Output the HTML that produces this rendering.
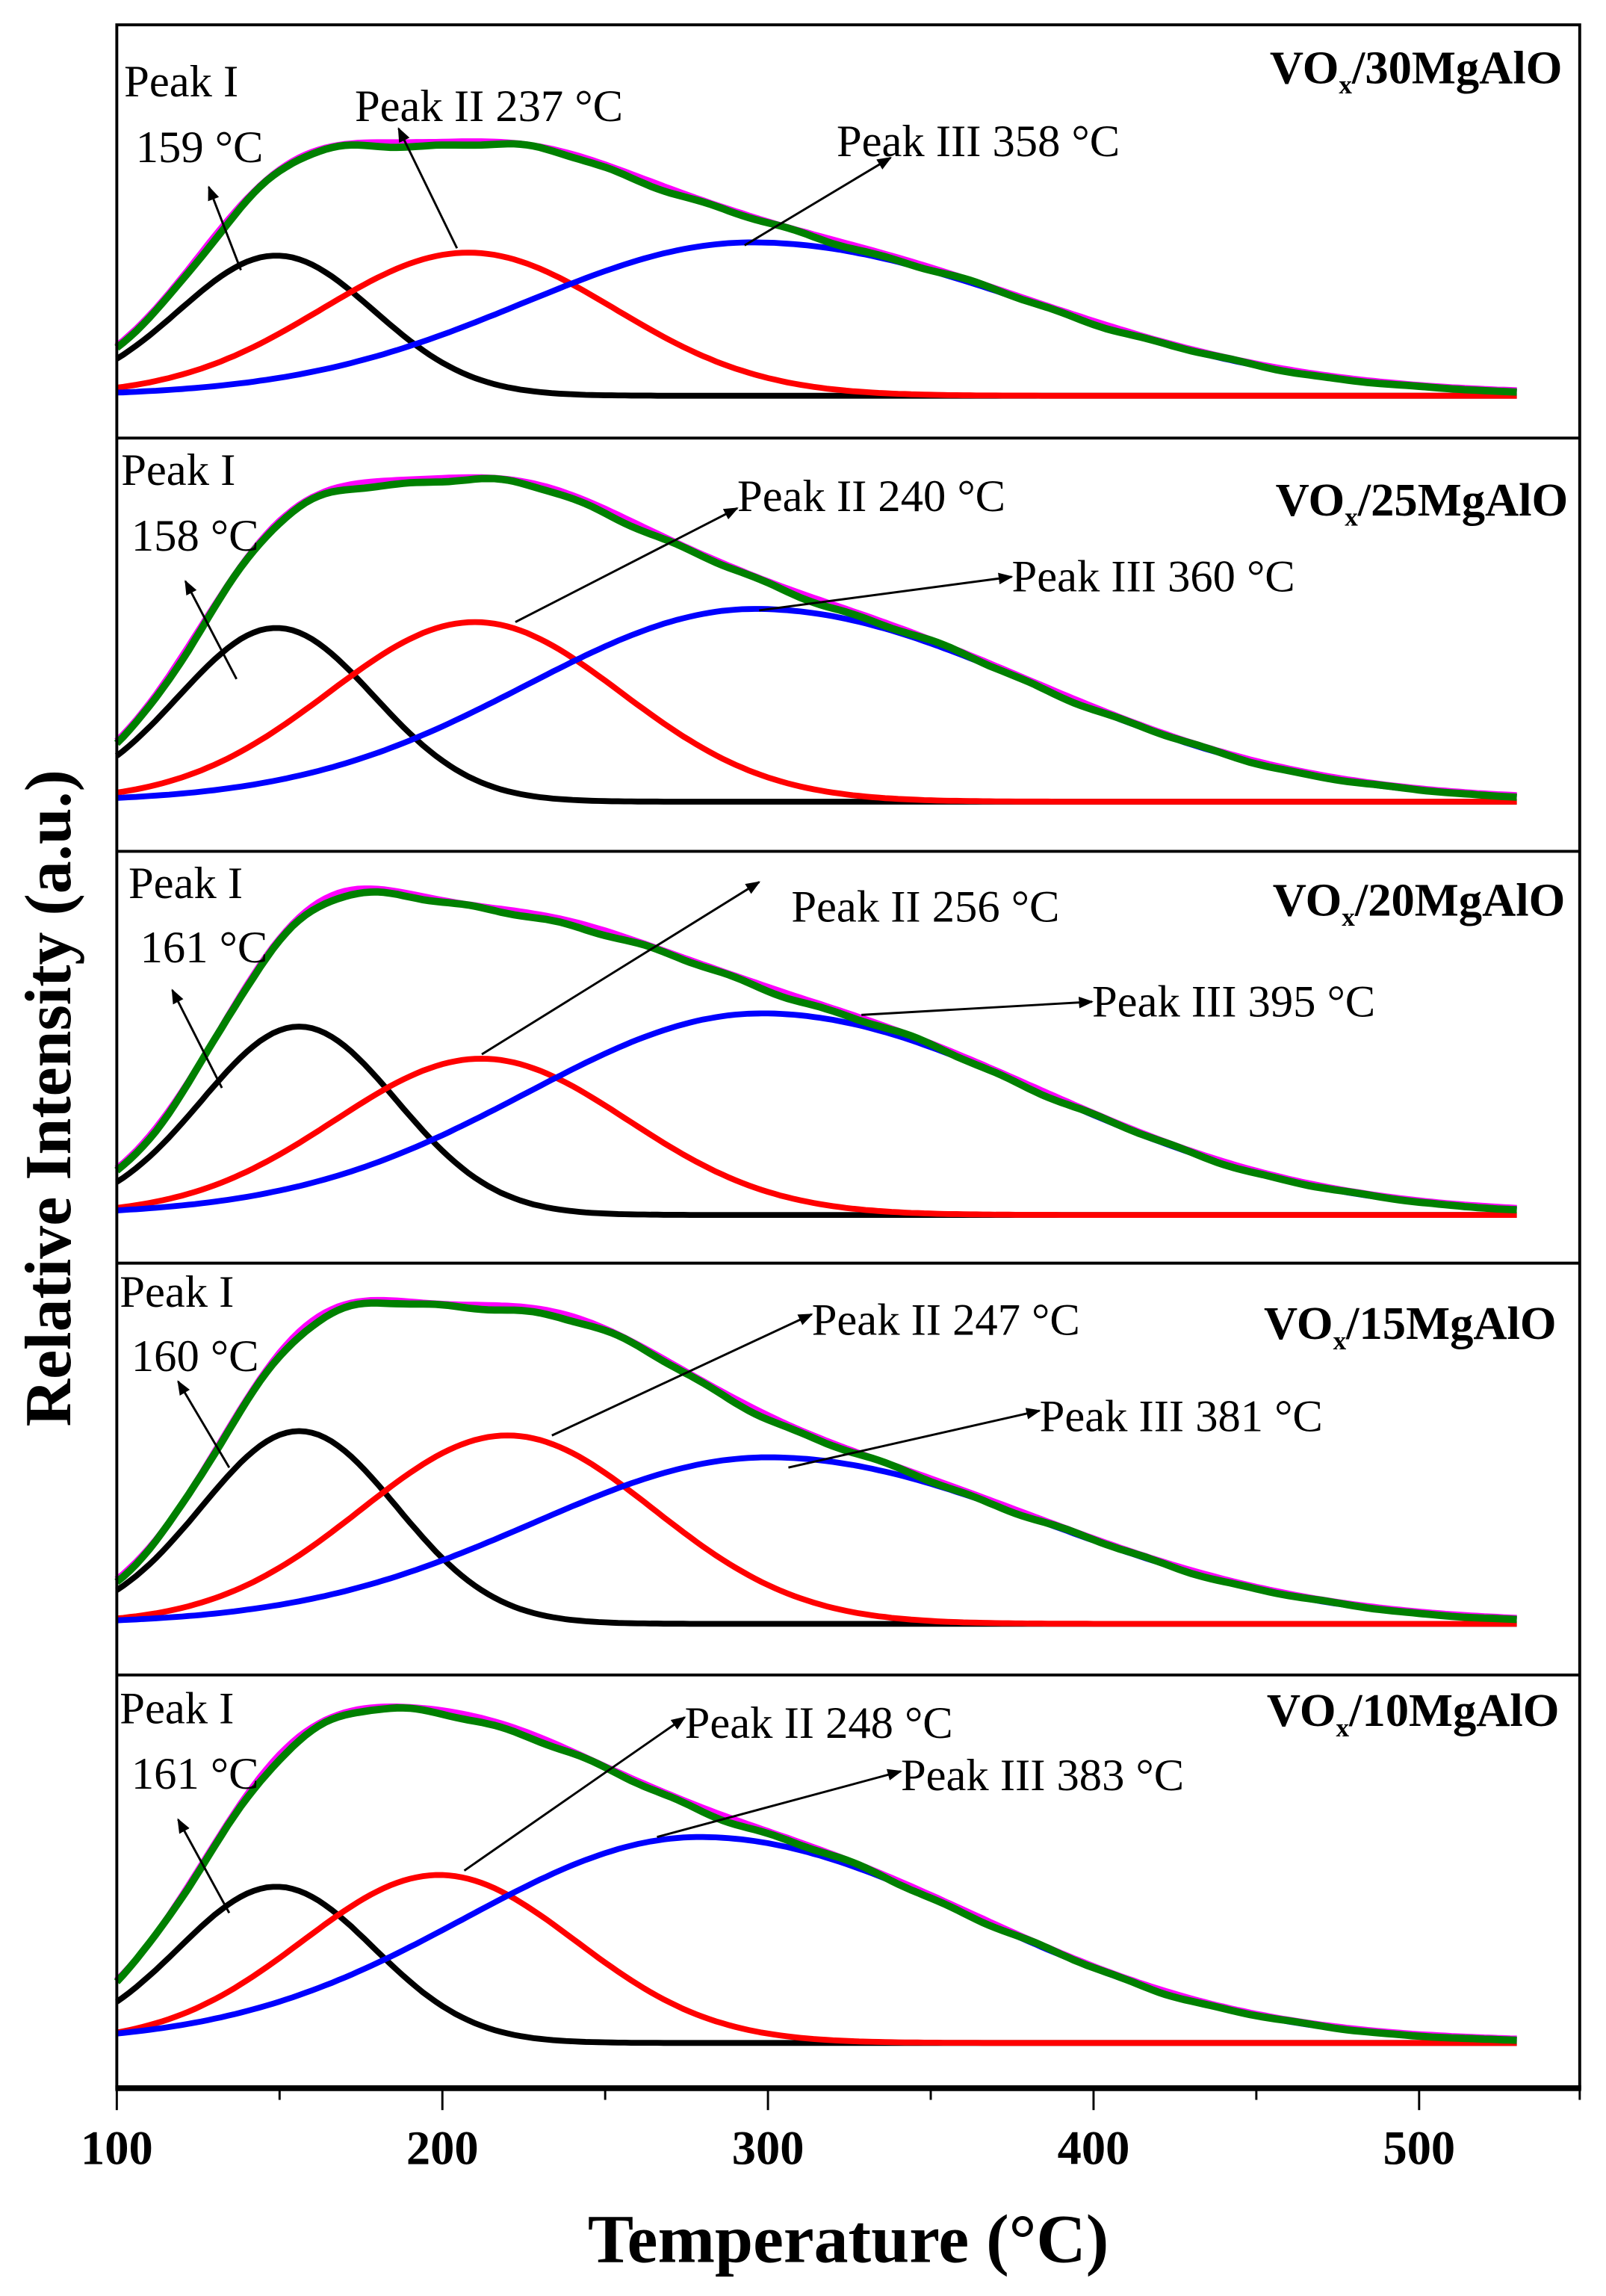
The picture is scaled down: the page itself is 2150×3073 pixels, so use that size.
<!DOCTYPE html>
<html><head><meta charset="utf-8">
<style>
html,body{margin:0;padding:0;background:#fff;}
svg{display:block;}
text{font-family:"Liberation Serif",serif;}
</style></head>
<body>
<svg id="s" width="2150" height="3073" viewBox="0 0 1100 1572.3" preserveAspectRatio="none" xmlns="http://www.w3.org/2000/svg">
<defs>
<marker id="ah" markerWidth="10" markerHeight="8" refX="9" refY="4" orient="auto" markerUnits="userSpaceOnUse">
<path d="M0,0 L10,4 L0,8 Z" fill="#000"/>
</marker>
</defs>
<rect x="0" y="0" width="1100" height="1572.3" fill="#fff"/>
<g id="curves"></g>
<rect x="80" y="17" width="1002" height="1413" fill="none" stroke="#000" stroke-width="2"/>
<line x1="80" y1="300" x2="1082" y2="300" stroke="#000" stroke-width="2"/>
<line x1="80" y1="583" x2="1082" y2="583" stroke="#000" stroke-width="2"/>
<line x1="80" y1="865" x2="1082" y2="865" stroke="#000" stroke-width="2"/>
<line x1="80" y1="1147" x2="1082" y2="1147" stroke="#000" stroke-width="2"/>
<line x1="79" y1="1430" x2="1083" y2="1430" stroke="#000" stroke-width="4"/>
<g stroke="#000" stroke-width="1.5">
<line x1="80" y1="1430" x2="80" y2="1445"/><line x1="191.5" y1="1430" x2="191.5" y2="1438"/>
<line x1="303" y1="1430" x2="303" y2="1445"/><line x1="414.5" y1="1430" x2="414.5" y2="1438"/>
<line x1="526" y1="1430" x2="526" y2="1445"/><line x1="637.5" y1="1430" x2="637.5" y2="1438"/>
<line x1="749" y1="1430" x2="749" y2="1445"/><line x1="860.5" y1="1430" x2="860.5" y2="1438"/>
<line x1="972" y1="1430" x2="972" y2="1445"/><line x1="1082" y1="1430" x2="1082" y2="1438"/>
</g>
<g font-size="33" font-weight="bold" text-anchor="middle">
<text x="80" y="1482">100</text><text x="303" y="1482">200</text><text x="526" y="1482">300</text><text x="749" y="1482">400</text><text x="972" y="1482">500</text>
</g>
<text x="581" y="1549" font-size="47" font-weight="bold" text-anchor="middle">Temperature (°C)</text>
<text transform="translate(48,752) rotate(-90)" font-size="45" font-weight="bold" text-anchor="middle">Relative Intensity (a.u.)</text>

<g font-size="31" fill="#000">
<text x="85" y="66">Peak I</text><text x="93" y="111">159 °C</text>
<text x="243" y="83">Peak II 237 °C</text><text x="573" y="107">Peak III 358 °C</text>
<text x="83" y="332">Peak I</text><text x="90" y="377">158 °C</text>
<text x="505" y="350">Peak II 240 °C</text><text x="693" y="405">Peak III 360 °C</text>
<text x="88" y="615">Peak I</text><text x="96" y="659">161 °C</text>
<text x="542" y="631">Peak II 256 °C</text><text x="748" y="696">Peak III 395 °C</text>
<text x="82" y="895">Peak I</text><text x="90" y="939">160 °C</text>
<text x="556" y="914">Peak II 247 °C</text><text x="712" y="980">Peak III 381 °C</text>
<text x="82" y="1180">Peak I</text><text x="90" y="1225">161 °C</text>
<text x="469" y="1190">Peak II 248 °C</text><text x="617" y="1226">Peak III 383 °C</text>
</g>
<g font-size="32" font-weight="bold" text-anchor="end">
<text x="1070" y="57">VO<tspan font-size="18" dy="7">x</tspan><tspan dy="-7">/30MgAlO</tspan></text>
<text x="1074" y="353">VO<tspan font-size="18" dy="7">x</tspan><tspan dy="-7">/25MgAlO</tspan></text>
<text x="1072" y="627">VO<tspan font-size="18" dy="7">x</tspan><tspan dy="-7">/20MgAlO</tspan></text>
<text x="1066" y="917">VO<tspan font-size="18" dy="7">x</tspan><tspan dy="-7">/15MgAlO</tspan></text>
<text x="1068" y="1182">VO<tspan font-size="18" dy="7">x</tspan><tspan dy="-7">/10MgAlO</tspan></text>
</g>
<g stroke="#000" stroke-width="1.5" marker-end="url(#ah)">
<line x1="165" y1="185" x2="143" y2="128"/>
<line x1="313" y1="170" x2="273" y2="88"/>
<line x1="510" y1="168" x2="610" y2="108"/>
<line x1="162" y1="465" x2="127" y2="398"/>
<line x1="353" y1="426" x2="505" y2="348"/>
<line x1="520" y1="418" x2="693" y2="395"/>
<line x1="152" y1="745" x2="118" y2="678"/>
<line x1="330" y1="722" x2="520" y2="604"/>
<line x1="590" y1="695" x2="748" y2="686"/>
<line x1="157" y1="1005" x2="122" y2="946"/>
<line x1="378" y1="983" x2="556" y2="900"/>
<line x1="540" y1="1005" x2="712" y2="966"/>
<line x1="157" y1="1310" x2="122" y2="1246"/>
<line x1="318" y1="1281" x2="469" y2="1176"/>
<line x1="450" y1="1258" x2="617" y2="1213"/>
</g>
</svg>
<script>
(function(){
var P=[
 {b:271,k:[149,96,30,30],r:[208,98,45,45],u:[295,105,70,86],x:[215,12,35,35]},
 {b:549,k:[149,119,30,30],r:[210,123,45,45],u:[296,132,70,86],x:[205,20,35,35]},
 {b:832,k:[156,129,30,30],r:[212,107,45,45],u:[298,138,72,86],x:[210,12,35,35]},
 {b:1112,k:[156,132,30,30],r:[220,129,45,45],u:[300,114,72,85],x:[210,12,35,35]},
 {b:1399,k:[149,107,30,30],r:[199,115,42,42],u:[279,141,72,85],x:[200,8,30,30]}
];
function g(T,p){var s=T<p[0]?p[2]:p[3];var d=T-p[0];return p[1]*Math.exp(-d*d/(2*s*s));}
function X(T){return 80+2.23*(T-100);}
var out='';
P.forEach(function(p,i){
 var pk='',pr='',pu='',pm='',pg='';
 for(var T=100;T<=530;T+=2){
  var x=X(T).toFixed(1);
  var k=g(T,p.k),r=g(T,p.r),u=g(T,p.u),e=g(T,p.x);
  var s=k+r+u+e;
  var w=1.2*Math.sin(T*0.09+i)+0.8*Math.sin(T*0.23+2*i);
  var c=(T==100?'M':'L');
  pk+=c+x+','+(p.b-k).toFixed(1);
  pr+=c+x+','+(p.b-r).toFixed(1);
  pu+=c+x+','+(p.b-u).toFixed(1);
  pm+=c+x+','+(p.b-s*1.005-1).toFixed(1);
  pg+=c+x+','+(p.b-s-w*(s/(s+30))).toFixed(1);
 }
 out+='<path d="'+pk+'" fill="none" stroke="#000" stroke-width="4"/>';
 out+='<path d="'+pr+'" fill="none" stroke="#f00" stroke-width="4"/>';
 out+='<path d="'+pu+'" fill="none" stroke="#00f" stroke-width="4"/>';
 out+='<path d="'+pm+'" fill="none" stroke="#f0f" stroke-width="4.5"/>';
 out+='<path d="'+pg+'" fill="none" stroke="#008000" stroke-width="5"/>';
});
document.getElementById('curves').innerHTML=out;
})();
</script>
</body></html>
